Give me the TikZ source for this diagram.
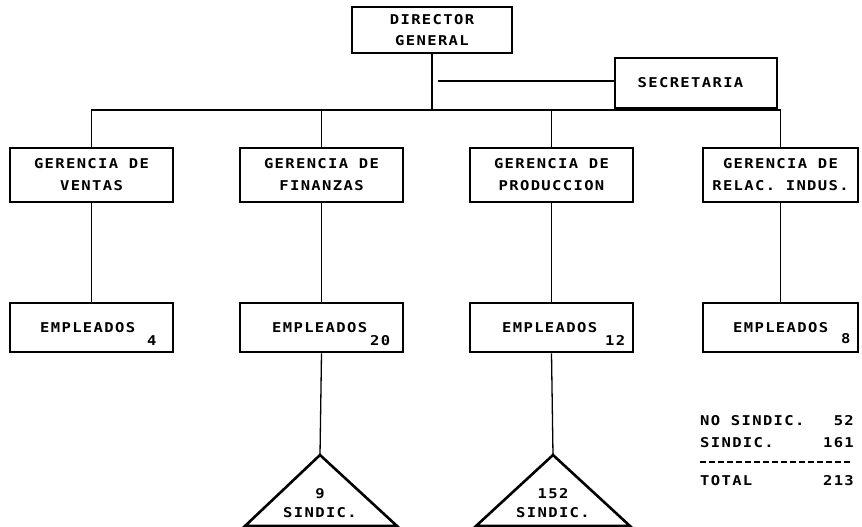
\documentclass[tikz,border=0pt]{standalone}
\usepackage{fontspec}
\newfontfamily\plotfont{DejaVu Sans Mono}[LetterSpace=10,FakeStretch=1.15]
\begin{document}
\begin{tikzpicture}[x=1pt,y=-1pt,
  pf/.style={font=\plotfont\bfseries\fontsize{13.5}{22}\selectfont},
  box/.style={draw,line width=2.8pt,inner sep=0pt,align=center,pf},
  conn/.style={line width=1.3pt},
  txt/.style={inner sep=0pt,pf},
  tri/.style={line width=2.6pt,line join=miter}]
\useasboundingbox (0,0) rectangle (862,527);
% top
\node[box,minimum width=160pt,minimum height=46pt,font=\plotfont\bfseries\fontsize{13.5}{21}\selectfont] (dg) at (432,30) {DIRECTOR\\GENERAL};
\node[box,minimum width=162pt,minimum height=50pt] (sec) at (696,83) {SECRETARIA\hspace*{11pt}};
% gerencias
\node[box,minimum width=163pt,minimum height=54pt] (gv) at (91.5,175) {GERENCIA DE\\VENTAS};
\node[box,minimum width=163pt,minimum height=54pt] (gf) at (321.5,175) {GERENCIA DE\\FINANZAS};
\node[box,minimum width=163pt,minimum height=54pt] (gp) at (551.5,175) {GERENCIA DE\\PRODUCCION};
\node[box,minimum width=155pt,minimum height=54pt] (gr) at (780.5,175) {GERENCIA DE\\RELAC. INDUS.};
% empleados
\node[box,minimum width=163pt,minimum height=49pt] (ev) at (91.5,327.5) {};
\node[box,minimum width=163pt,minimum height=49pt] (ef) at (321.5,327.5) {};
\node[box,minimum width=163pt,minimum height=49pt] (ep) at (551.5,327.5) {};
\node[box,minimum width=155pt,minimum height=49pt] (er) at (780.5,327.5) {};
\node[txt,anchor=base west] (evt) at (40,332) {EMPLEADOS};
\node[txt,anchor=base west] (evn) at (147,345) {4};
\node[txt,anchor=base west] (eft) at (272,332) {EMPLEADOS};
\node[txt,anchor=base west] (efn) at (370,345) {20};
\node[txt,anchor=base west] (ept) at (502,332) {EMPLEADOS};
\node[txt,anchor=base west] (epn) at (605,345) {12};
\node[txt,anchor=base west] (ert) at (733,332) {EMPLEADOS};
\node[txt,anchor=base west] (ern) at (841,343) {8};
% connectors
\coordinate (bus) at (432,110);
\draw[conn] (dg.south) -- (bus);
\coordinate (secend) at (438,81);
\draw[conn] (secend) -- (secend -| sec.west);
\draw[conn] (gv.north) -- (gv.north |- bus) -- (gr.north |- bus) -- (gr.north);
\draw[conn] (gf.north) -- (gf.north |- bus);
\draw[conn] (gp.north) -- (gp.north |- bus);
\draw[conn] (gv.south) -- (ev.north);
\draw[conn] (gf.south) -- (ef.north);
\draw[conn] (gp.south) -- (ep.north);
\draw[conn] (gr.south) -- (er.north);
% triangles
\coordinate (t1) at (320,455);
\coordinate (t2) at (553,455);
\draw[conn] (ef.south) -- (t1);
\draw[conn] (ep.south) -- (t2);
\draw[tri] (t1) -- ++(-75,71) -- ++(152,0) -- cycle;
\draw[tri] (t2) -- ++(-77,71) -- ++(154,0) -- cycle;
\node[txt,anchor=base] (t1a) at (320,498) {9};
\node[txt,anchor=base] (t1b) at (320,517) {SINDIC.};
\node[txt,anchor=base] (t2a) at (553,498) {152};
\node[txt,anchor=base] (t2b) at (553,517) {SINDIC.};
% summary
\node[txt,anchor=base west] (s1) at (700,425) {NO SINDIC.};
\node[txt,anchor=base east] (s1n) at (854,425) {52};
\node[txt,anchor=base west] (s2) at (700,447) {SINDIC.};
\node[txt,anchor=base east] (s2n) at (854,447) {161};
\coordinate (dl) at (700,462);
\coordinate (dr) at (852,462);
\draw[line width=1.5pt,dash pattern=on 6pt off 3pt] (dl) -- (dr);
\node[txt,anchor=base west] (s3) at (700,485) {TOTAL};
\node[txt,anchor=base east] (s3n) at (854,485) {213};
\end{tikzpicture}
\end{document}
